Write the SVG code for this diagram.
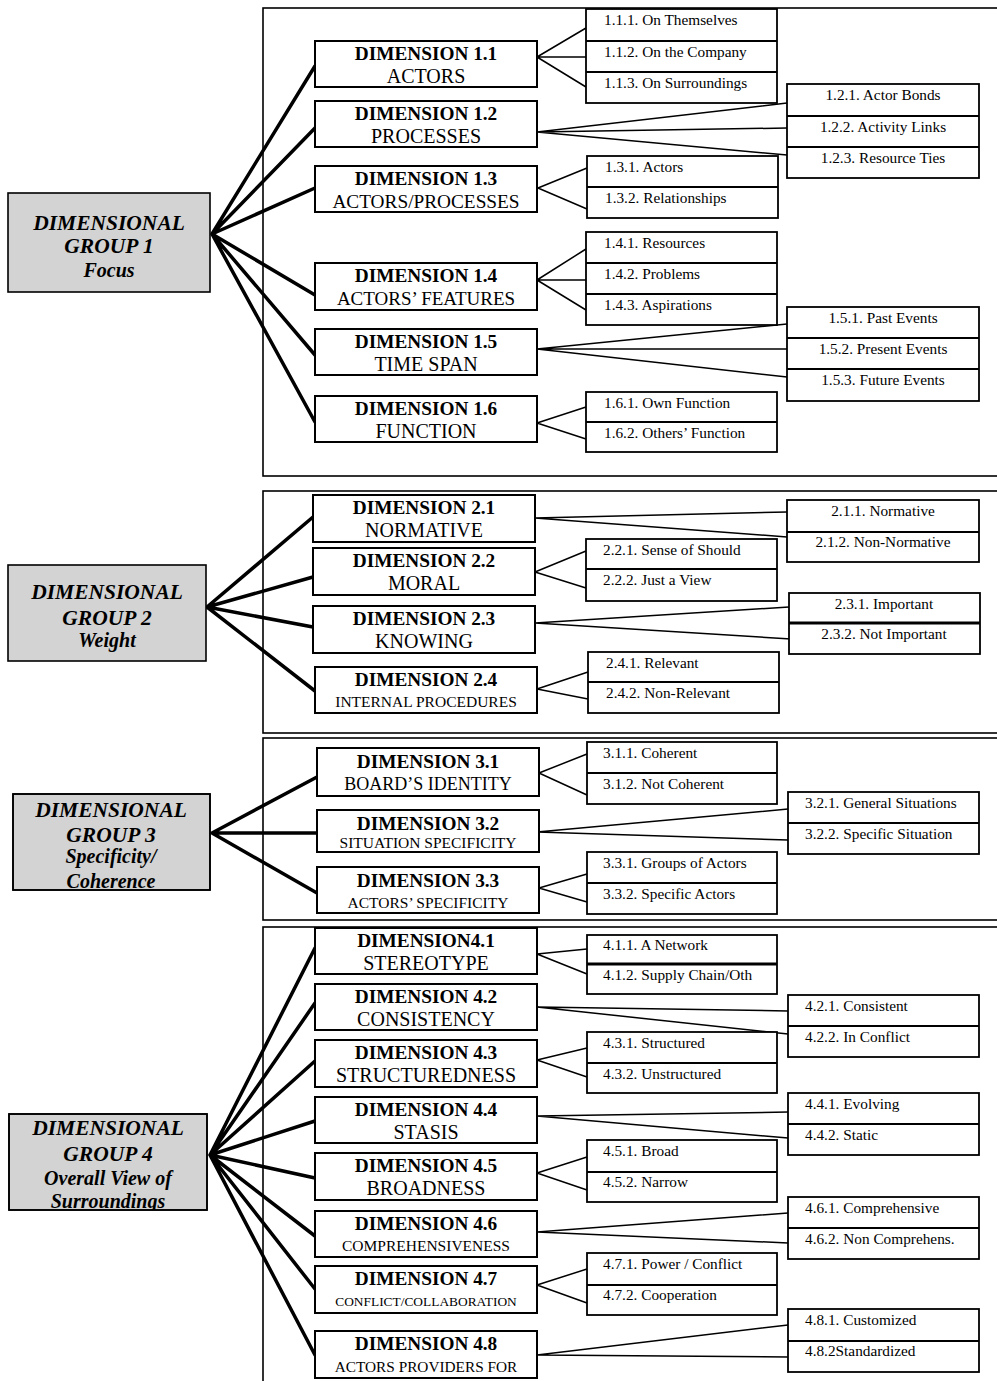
<svg xmlns="http://www.w3.org/2000/svg" width="997" height="1381" viewBox="0 0 997 1381" font-family="Liberation Serif, Times New Roman, serif">
<style>
.frame{fill:none;stroke:#000;stroke-width:1.6}
.grp{fill:#d3d3d3;stroke:#000;stroke-width:1.6}
.dim{fill:#fff;stroke:#000;stroke-width:2}
.sub{fill:#fff;stroke:#000;stroke-width:1.8}
.div{stroke:#000;stroke-width:1.8}
.thick{stroke:#000;stroke-width:3.5;fill:none;stroke-linecap:round}
.thin{stroke:#000;stroke-width:1.5;fill:none}
.gt{font-weight:bold;font-style:italic;font-size:21.5px;text-anchor:middle}
.gs{font-weight:bold;font-style:italic;font-size:20px;text-anchor:middle}
.dt{font-weight:bold;font-size:19.3px;text-anchor:middle}
.dl{font-size:20px;text-anchor:middle}
.st{font-size:15.3px}
.c{text-anchor:middle}
</style>
<defs>
<clipPath id="cg3"><rect x="13" y="794" width="197" height="96"/></clipPath>
<clipPath id="cg4"><rect x="9" y="1114" width="198" height="96"/></clipPath>
</defs>

<g id="frames">
<rect class="frame" x="263" y="8" width="800" height="468"/>
<rect class="frame" x="263" y="491" width="800" height="242"/>
<rect class="frame" x="263" y="738" width="800" height="182"/>
<rect class="frame" x="263" y="927" width="800" height="500"/>
</g>

<g id="connectors">
<path class="thick" d="M212,234 L315,66 M212,234 L316,127 M212,234 L315,188 M212,234 L315,295 M212,234 L315,355 M212,234 L315,422"/>
<path class="thin" d="M537,57 L586,28 M537,57 L586,57 M537,57 L586,87"/>
<path class="thin" d="M537,132 L787,103 M537,132 L787,128 M537,132 L787,155"/>
<path class="thin" d="M538,188 L587,168 M538,188 L587,209"/>
<path class="thin" d="M537,280 L586,249 M537,280 L586,280 M537,280 L586,310"/>
<path class="thin" d="M537,349 L787,324 M537,349 L787,349 M537,349 L787,377"/>
<path class="thin" d="M537,423 L586,407 M537,423 L586,439"/>
<path class="thick" d="M207,607 L313,517 M207,607 L313,577 M207,607 L313,627 M207,607 L315,691"/>
<path class="thin" d="M535,518 L787,512 M535,518 L787,537"/>
<path class="thin" d="M535,572 L586,551 M535,572 L586,588"/>
<path class="thin" d="M535,623 L789,607 M535,623 L791,639"/>
<path class="thin" d="M537,689 L588,672 M537,689 L588,699"/>
<path class="thick" d="M212,833 L317,777 M212,833 L317,833 M212,833 L317,893"/>
<path class="thin" d="M539,773 L587,754 M539,773 L587,795"/>
<path class="thin" d="M537,832 L788,809 M537,832 L788,840"/>
<path class="thin" d="M539,888 L587,874 M539,888 L587,902"/>
<path class="thick" d="M210,1155 L315,948 M210,1155 L315,1003 M210,1155 L315,1061 M210,1155 L315,1121 M210,1155 L315,1178 M210,1155 L315,1236 M210,1155 L315,1289 M210,1155 L315,1355"/>
<path class="thin" d="M537,954 L587,949 M537,954 L587,974"/>
<path class="thin" d="M537,1007 L788,1011 M537,1007 L788,1034"/>
<path class="thin" d="M537,1060 L587,1048 M537,1060 L587,1077"/>
<path class="thin" d="M537,1116 L788,1112 M537,1116 L788,1138"/>
<path class="thin" d="M537,1173 L587,1157 M537,1173 L587,1190"/>
<path class="thin" d="M537,1232 L788,1213 M537,1232 L788,1243"/>
<path class="thin" d="M537,1285 L587,1269 M537,1285 L587,1303"/>
<path class="thin" d="M537,1355 L788,1325 M537,1355 L788,1357"/>
</g>

<g id="group1">
<rect class="grp" x="8" y="193" width="202" height="99"/>
<text class="gt" x="109" y="230">DIMENSIONAL</text>
<text class="gt" x="109" y="253">GROUP 1</text>
<text class="gs" x="109" y="277">Focus</text>
</g>
<g id="dim11"><rect class="dim" x="315" y="41" width="222" height="46"/><text class="dt" x="426" y="60">DIMENSION 1.1</text><text class="dl" x="426" y="83">ACTORS</text></g>
<g id="dim12"><rect class="dim" x="315" y="101" width="222" height="46"/><text class="dt" x="426" y="120">DIMENSION 1.2</text><text class="dl" x="426" y="143">PROCESSES</text></g>
<g id="dim13"><rect class="dim" x="315" y="166" width="222" height="46"/><text class="dt" x="426" y="185">DIMENSION 1.3</text><text class="dl" x="426" y="208" style="font-size:19.3px">ACTORS/PROCESSES</text></g>
<g id="dim14"><rect class="dim" x="315" y="263" width="222" height="47"/><text class="dt" x="426" y="282">DIMENSION 1.4</text><text class="dl" x="426" y="305" style="font-size:19px">ACTORS’ FEATURES</text></g>
<g id="dim15"><rect class="dim" x="315" y="329" width="222" height="46"/><text class="dt" x="426" y="348">DIMENSION 1.5</text><text class="dl" x="426" y="371">TIME SPAN</text></g>
<g id="dim16"><rect class="dim" x="315" y="396" width="222" height="46"/><text class="dt" x="426" y="415">DIMENSION 1.6</text><text class="dl" x="426" y="438">FUNCTION</text></g>

<g id="sub11"><rect class="sub" x="586" y="9" width="191" height="94"/><line class="div" x1="586" y1="41" x2="777" y2="41"/><line class="div" x1="586" y1="72" x2="777" y2="72"/>
<text class="st" x="604" y="25">1.1.1. On Themselves</text><text class="st" x="604" y="57">1.1.2. On the Company</text><text class="st" x="604" y="88">1.1.3. On Surroundings</text></g>
<g id="sub12"><rect class="sub" x="787" y="84" width="192" height="94"/><line class="div" x1="787" y1="116" x2="979" y2="116"/><line class="div" x1="787" y1="147" x2="979" y2="147"/>
<text class="st c" x="883" y="100">1.2.1. Actor Bonds</text><text class="st c" x="883" y="132">1.2.2. Activity Links</text><text class="st c" x="883" y="163">1.2.3. Resource Ties</text></g>
<g id="sub13"><rect class="sub" x="587" y="156" width="191" height="62"/><line class="div" x1="587" y1="187" x2="778" y2="187"/>
<text class="st" x="605" y="172">1.3.1. Actors</text><text class="st" x="605" y="203">1.3.2. Relationships</text></g>
<g id="sub14"><rect class="sub" x="586" y="232" width="191" height="93"/><line class="div" x1="586" y1="263" x2="777" y2="263"/><line class="div" x1="586" y1="294" x2="777" y2="294"/>
<text class="st" x="604" y="248">1.4.1. Resources</text><text class="st" x="604" y="279">1.4.2. Problems</text><text class="st" x="604" y="310">1.4.3. Aspirations</text></g>
<g id="sub15"><rect class="sub" x="787" y="307" width="192" height="94"/><line class="div" x1="787" y1="338" x2="979" y2="338"/><line class="div" x1="787" y1="369" x2="979" y2="369"/>
<text class="st c" x="883" y="323">1.5.1. Past Events</text><text class="st c" x="883" y="354">1.5.2. Present Events</text><text class="st c" x="883" y="385">1.5.3. Future Events</text></g>
<g id="sub16"><rect class="sub" x="586" y="392" width="191" height="60"/><line class="div" x1="586" y1="422" x2="777" y2="422"/>
<text class="st" x="604" y="408">1.6.1. Own Function</text><text class="st" x="604" y="438">1.6.2. Others’ Function</text></g>

<g id="group2">
<rect class="grp" x="8" y="565" width="198" height="96"/>
<text class="gt" x="107" y="599">DIMENSIONAL</text>
<text class="gt" x="107" y="625">GROUP 2</text>
<text class="gs" x="107" y="647">Weight</text>
</g>
<g id="dim21"><rect class="dim" x="313" y="495" width="222" height="47"/><text class="dt" x="424" y="514">DIMENSION 2.1</text><text class="dl" x="424" y="537">NORMATIVE</text></g>
<g id="dim22"><rect class="dim" x="313" y="548" width="222" height="47"/><text class="dt" x="424" y="567">DIMENSION 2.2</text><text class="dl" x="424" y="590">MORAL</text></g>
<g id="dim23"><rect class="dim" x="313" y="606" width="222" height="47"/><text class="dt" x="424" y="625">DIMENSION 2.3</text><text class="dl" x="424" y="648">KNOWING</text></g>
<g id="dim24"><rect class="dim" x="315" y="667" width="222" height="46"/><text class="dt" x="426" y="686">DIMENSION 2.4</text><text class="dl" x="426" y="707" style="font-size:15.5px">INTERNAL PROCEDURES</text></g>

<g id="sub21"><rect class="sub" x="787" y="500" width="192" height="62"/><line class="div" x1="787" y1="532" x2="979" y2="532"/>
<text class="st c" x="883" y="516">2.1.1. Normative</text><text class="st c" x="883" y="547">2.1.2. Non-Normative</text></g>
<g id="sub22"><rect class="sub" x="586" y="539" width="191" height="62"/><line class="div" x1="586" y1="569" x2="777" y2="569"/>
<text class="st" x="603" y="555">2.2.1. Sense of Should</text><text class="st" x="603" y="585">2.2.2. Just a View</text></g>
<g id="sub23"><rect class="sub" x="789" y="593" width="191" height="61"/><line class="div" x1="789" y1="623" x2="980" y2="623" style="stroke-width:3"/>
<text class="st c" x="884" y="609">2.3.1. Important</text><text class="st c" x="884" y="639">2.3.2. Not Important</text></g>
<g id="sub24"><rect class="sub" x="588" y="652" width="191" height="61"/><line class="div" x1="588" y1="682" x2="779" y2="682"/>
<text class="st" x="606" y="668">2.4.1. Relevant</text><text class="st" x="606" y="698">2.4.2. Non-Relevant</text></g>

<g id="group3">
<rect class="grp" x="13" y="794" width="197" height="96"/>
<g clip-path="url(#cg3)">
<text class="gt" x="111" y="817">DIMENSIONAL</text>
<text class="gt" x="111" y="842">GROUP 3</text>
<text class="gs" x="111" y="863">Specificity/</text>
<text class="gs" x="111" y="888">Coherence</text>
</g>
<rect x="13" y="794" width="197" height="96" fill="none" stroke="#000" stroke-width="1.6"/>
</g>
<g id="dim31"><rect class="dim" x="317" y="748" width="222" height="48"/><text class="dt" x="428" y="768">DIMENSION 3.1</text><text class="dl" x="428" y="790" style="font-size:18px">BOARD’S IDENTITY</text></g>
<g id="dim32"><rect class="dim" x="317" y="810" width="222" height="42"/><text class="dt" x="428" y="830">DIMENSION 3.2</text><text class="dl" x="428" y="848" style="font-size:15.5px">SITUATION SPECIFICITY</text></g>
<g id="dim33"><rect class="dim" x="317" y="867" width="222" height="46"/><text class="dt" x="428" y="887">DIMENSION 3.3</text><text class="dl" x="428" y="908" style="font-size:15.5px">ACTORS’ SPECIFICITY</text></g>

<g id="sub31"><rect class="sub" x="587" y="742" width="190" height="62"/><line class="div" x1="587" y1="773" x2="777" y2="773"/>
<text class="st" x="603" y="758">3.1.1. Coherent</text><text class="st" x="603" y="789">3.1.2. Not Coherent</text></g>
<g id="sub32"><rect class="sub" x="788" y="792" width="191" height="62"/><line class="div" x1="788" y1="823" x2="979" y2="823"/>
<text class="st" x="805" y="808">3.2.1. General Situations</text><text class="st" x="805" y="839">3.2.2. Specific Situation</text></g>
<g id="sub33"><rect class="sub" x="587" y="852" width="190" height="62"/><line class="div" x1="587" y1="883" x2="777" y2="883"/>
<text class="st" x="603" y="868">3.3.1. Groups of Actors</text><text class="st" x="603" y="899">3.3.2. Specific Actors</text></g>

<g id="group4">
<rect class="grp" x="9" y="1114" width="198" height="96"/>
<g clip-path="url(#cg4)">
<text class="gt" x="108" y="1135">DIMENSIONAL</text>
<text class="gt" x="108" y="1161">GROUP 4</text>
<text class="gs" x="108" y="1185">Overall View of</text>
<text class="gs" x="108" y="1208">Surroundings</text>
</g>
<rect x="9" y="1114" width="198" height="96" fill="none" stroke="#000" stroke-width="1.6"/>
</g>
<g id="dim41"><rect class="dim" x="315" y="928" width="222" height="46"/><text class="dt" x="426" y="947">DIMENSION4.1</text><text class="dl" x="426" y="970">STEREOTYPE</text></g>
<g id="dim42"><rect class="dim" x="315" y="984" width="222" height="46"/><text class="dt" x="426" y="1003">DIMENSION 4.2</text><text class="dl" x="426" y="1026">CONSISTENCY</text></g>
<g id="dim43"><rect class="dim" x="315" y="1040" width="222" height="47"/><text class="dt" x="426" y="1059">DIMENSION 4.3</text><text class="dl" x="426" y="1082">STRUCTUREDNESS</text></g>
<g id="dim44"><rect class="dim" x="315" y="1097" width="222" height="46"/><text class="dt" x="426" y="1116">DIMENSION 4.4</text><text class="dl" x="426" y="1139">STASIS</text></g>
<g id="dim45"><rect class="dim" x="315" y="1153" width="222" height="47"/><text class="dt" x="426" y="1172">DIMENSION 4.5</text><text class="dl" x="426" y="1195">BROADNESS</text></g>
<g id="dim46"><rect class="dim" x="315" y="1211" width="222" height="46"/><text class="dt" x="426" y="1230">DIMENSION 4.6</text><text class="dl" x="426" y="1251" style="font-size:15.5px">COMPREHENSIVENESS</text></g>
<g id="dim47"><rect class="dim" x="315" y="1266" width="222" height="47"/><text class="dt" x="426" y="1285">DIMENSION 4.7</text><text class="dl" x="426" y="1306" style="font-size:13.4px">CONFLICT/COLLABORATION</text></g>
<g id="dim48"><rect class="dim" x="315" y="1331" width="222" height="47"/><text class="dt" x="426" y="1350">DIMENSION 4.8</text><text class="dl" x="426" y="1372" style="font-size:15.3px">ACTORS PROVIDERS FOR</text></g>

<g id="sub41"><rect class="sub" x="587" y="935" width="190" height="59"/><line class="div" x1="587" y1="964" x2="777" y2="964" style="stroke-width:3"/>
<text class="st" x="603" y="950">4.1.1. A Network</text><text class="st" x="603" y="980">4.1.2. Supply Chain/Oth</text></g>
<g id="sub42"><rect class="sub" x="788" y="995" width="191" height="62"/><line class="div" x1="788" y1="1026" x2="979" y2="1026"/>
<text class="st" x="805" y="1011">4.2.1. Consistent</text><text class="st" x="805" y="1042">4.2.2. In Conflict</text></g>
<g id="sub43"><rect class="sub" x="587" y="1032" width="190" height="61"/><line class="div" x1="587" y1="1063" x2="777" y2="1063"/>
<text class="st" x="603" y="1048">4.3.1. Structured</text><text class="st" x="603" y="1079">4.3.2. Unstructured</text></g>
<g id="sub44"><rect class="sub" x="788" y="1093" width="191" height="62"/><line class="div" x1="788" y1="1124" x2="979" y2="1124"/>
<text class="st" x="805" y="1109">4.4.1. Evolving</text><text class="st" x="805" y="1140">4.4.2. Static</text></g>
<g id="sub45"><rect class="sub" x="587" y="1140" width="190" height="62"/><line class="div" x1="587" y1="1172" x2="777" y2="1172"/>
<text class="st" x="603" y="1156">4.5.1. Broad</text><text class="st" x="603" y="1187">4.5.2. Narrow</text></g>
<g id="sub46"><rect class="sub" x="788" y="1197" width="191" height="62"/><line class="div" x1="788" y1="1228" x2="979" y2="1228"/>
<text class="st" x="805" y="1213">4.6.1. Comprehensive</text><text class="st" x="805" y="1244">4.6.2. Non Comprehens.</text></g>
<g id="sub47"><rect class="sub" x="587" y="1253" width="190" height="62"/><line class="div" x1="587" y1="1285" x2="777" y2="1285"/>
<text class="st" x="603" y="1269">4.7.1. Power / Conflict</text><text class="st" x="603" y="1300">4.7.2. Cooperation</text></g>
<g id="sub48"><rect class="sub" x="788" y="1309" width="191" height="63"/><line class="div" x1="788" y1="1341" x2="979" y2="1341"/>
<text class="st" x="805" y="1325">4.8.1. Customized</text><text class="st" x="805" y="1356">4.8.2Standardized</text></g>
</svg>
